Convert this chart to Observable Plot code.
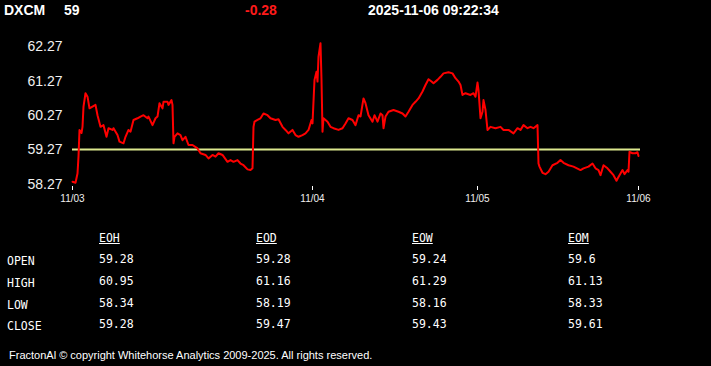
<!DOCTYPE html>
<html>
<head>
<meta charset="utf-8">
<script src="https://cdn.jsdelivr.net/npm/d3@7"></script>
<script src="https://cdn.jsdelivr.net/npm/@observablehq/plot@0.6"></script>
<style>
  html, body { margin: 0; padding: 0; background: #000; }
  body { width: 711px; height: 366px; position: relative; overflow: hidden; font-family: "Liberation Sans", Arial, sans-serif; color: #fff; }
  .hdr { position: absolute; top: 2px; font-weight: bold; font-size: 14px; line-height: 16px; white-space: nowrap; }
  #chart { position: absolute; left: 0; top: 0; }
  .cell { position: absolute; font-family: "DejaVu Sans Mono", monospace; font-size: 11.5px; line-height: 14px; color: #fff; white-space: nowrap; }
  .colhead { text-decoration: underline; }
  #footer { position: absolute; left: 9px; top: 348px; font-size: 11px; line-height: 14px; letter-spacing: 0; white-space: nowrap; }
</style>
</head>
<body>
<div id="hdr-sym" class="hdr" style="left:4px">DXCM</div>
<div id="hdr-last" class="hdr" style="left:64px">59</div>
<div id="hdr-chg" class="hdr" style="left:245px;color:#ff1a1a">-0.28</div>
<div id="hdr-time" class="hdr" style="left:368px">2025-11-06 09:22:34</div>
<div id="chart"></div>
<div id="table"></div>
<div id="footer">FractonAl © copyright Whitehorse Analytics 2009-2025. All rights reserved.</div>
<script>
// ---- header ----
const symbol = "DXCM";
const lastPrice = "59";
const change = "-0.28";
const timestamp = "2025-11-06 09:22:34";

// ---- price series (bar index, price) ----
const barIndex = [0,3,5,6,7,9,10,11,13,15,17,20,23,25,28,31,34,36,40,41,45,47,51,53,56,58,61,65,68,71,75,76,80,83,85,87,90,91,95,96,99,100,101,102,105,108,110,113,116,120,125,128,133,136,140,143,146,150,155,158,161,165,168,171,175,178,180,181,182,185,188,191,195,198,203,206,210,213,216,220,223,226,230,233,236,239,240,242,244,245,246,248,249,250,251,255,258,261,266,270,273,276,280,283,286,288,291,293,296,300,302,305,308,310,311,313,316,321,326,330,333,336,340,343,346,350,353,356,359,361,365,368,371,376,380,383,386,388,390,393,398,401,403,405,406,408,410,411,413,415,418,423,428,431,436,441,445,448,451,455,458,461,465,466,467,470,473,476,480,485,488,491,496,501,508,511,516,520,523,526,528,531,535,538,541,544,546,550,552,555,556,557,560,563,565,566];
const price = [58.34,58.31,58.58,59.07,59.85,59.76,59.94,60.53,60.92,60.82,60.48,60.53,60.58,60.28,59.94,59.99,59.65,59.90,59.85,59.90,59.70,59.51,59.46,59.65,59.85,59.80,60.14,60.19,60.24,60.28,60.19,60.24,59.99,60.19,60.24,60.63,60.48,60.67,60.67,60.58,60.72,60.58,59.46,59.65,59.75,59.70,59.55,59.65,59.41,59.41,59.31,59.17,59.12,59.02,59.12,59.07,59.17,59.12,58.92,58.97,58.92,58.97,58.87,58.82,58.70,58.68,58.73,59.94,60.09,60.14,60.19,60.33,60.28,60.19,60.14,60.16,59.94,59.85,59.75,59.85,59.70,59.65,59.70,59.75,59.85,60.14,60.04,61.31,61.55,61.26,61.99,62.38,61.31,59.80,60.19,60.09,59.94,59.90,59.85,59.90,60.04,60.19,60.14,59.99,60.28,60.24,60.77,60.63,60.28,60.09,60.28,60.09,60.33,60.28,59.90,60.24,60.38,60.43,60.38,60.33,60.24,60.38,60.58,60.67,60.77,60.97,61.16,61.33,61.26,61.21,61.31,61.40,61.50,61.53,61.50,61.36,61.26,61.16,60.87,60.92,60.87,60.92,60.82,61.23,61.01,60.19,60.38,60.72,60.43,59.85,59.94,59.90,59.94,59.85,59.85,59.75,59.90,59.85,59.99,59.90,59.94,59.90,59.99,58.87,58.78,58.60,58.56,58.63,58.82,58.89,58.97,58.89,58.82,58.78,58.68,58.73,58.78,58.87,58.73,58.68,58.53,58.82,58.73,58.63,58.53,58.37,58.48,58.68,58.56,58.68,58.63,59.21,59.17,59.17,59.20,59.09];
const referencePrice = 59.28;

// ---- axes ----
const yTicks = [58.27, 59.27, 60.27, 61.27, 62.27];
const xTickIndex = [0, 240, 405, 566];
const xTickLabels = ["11/03", "11/04", "11/05", "11/06"];

// ---- summary table ----
const tableColumns = ["EOH", "EOD", "EOW", "EOM"];
const tableRows = ["OPEN", "HIGH", "LOW", "CLOSE"];
const eohValues = ["59.28", "60.95", "58.34", "59.28"];
const eodValues = ["59.28", "61.16", "58.19", "59.47"];
const eowValues = ["59.24", "61.29", "58.16", "59.43"];
const eomValues = ["59.6", "61.13", "58.33", "59.61"];

const series = barIndex.map((i, k) => ({i, v: price[k]}));
const xLabelMap = new Map(xTickIndex.map((d, k) => [d, xTickLabels[k]]));

const chart = Plot.plot({
  width: 711,
  height: 215,
  marginLeft: 72,
  marginRight: 73,
  marginTop: 42,
  marginBottom: 29,
  style: {background: "transparent", color: "#fff", fontFamily: "'Liberation Sans', Arial, sans-serif"},
  x: {domain: [0, 566]},
  y: {domain: [58.2, 62.4]},
  marks: [
    Plot.axisY({ticks: yTicks, tickSize: 0, tickPadding: 10, tickFormat: d => d.toFixed(2), fontSize: 14, fill: "#f0f0f0", label: null}),
    Plot.axisX({ticks: xTickIndex, tickSize: 4, tickPadding: 4, tickFormat: d => xLabelMap.get(d), fontSize: 10, stroke: "#fff", fill: "#f0f0f0", label: null}),
    Plot.ruleY([referencePrice], {x1: 0, x2: 568, stroke: "#dce88e", strokeWidth: 2}),
    Plot.line(series, {x: "i", y: "v", stroke: "#ff0000", strokeWidth: 2})
  ]
});
document.getElementById("chart").appendChild(chart);

// ---- table layout ----
const table = document.getElementById("table");
const colX = [99, 256, 412, 568];
const labelX = 7;
const headTop = 231;
const rowTops = [252, 274, 296, 317];
const colValues = [eohValues, eodValues, eowValues, eomValues];
function cell(text, x, y, cls) {
  const d = document.createElement("div");
  d.className = "cell" + (cls ? " " + cls : "");
  d.style.left = x + "px";
  d.style.top = y + "px";
  d.textContent = text;
  table.appendChild(d);
}
tableColumns.forEach((c, j) => cell(c, colX[j], headTop, "colhead"));
tableRows.forEach((r, k) => {
  cell(r, labelX, rowTops[k] + 2);
  colValues.forEach((vals, j) => cell(vals[k], colX[j], rowTops[k]));
});
</script>
</body>
</html>
